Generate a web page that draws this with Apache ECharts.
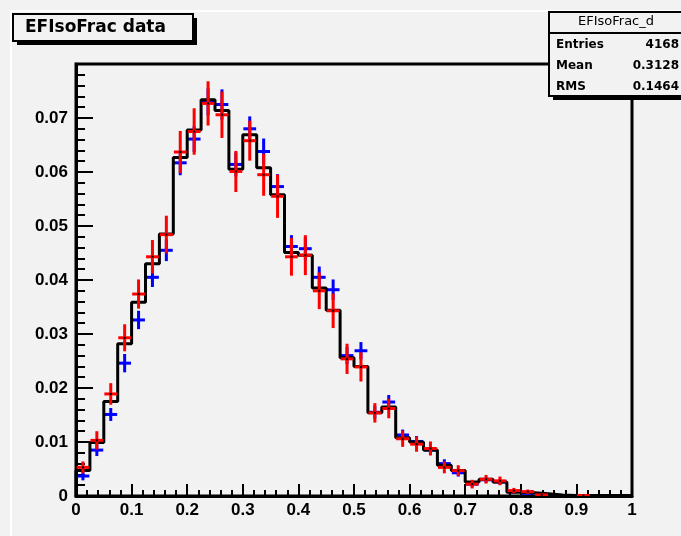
<!DOCTYPE html>
<html><head><meta charset="utf-8">
<script src="https://cdn.jsdelivr.net/npm/echarts@6/dist/echarts.min.js"></script>
<style>html,body{margin:0;padding:0;background:#f2f2f2;overflow:hidden}#c{width:681px;height:536px}</style>
</head><body><div id="c"></div>
<script>
// ---- data ----
const binLow = [0,0.025,0.05,0.075,0.1,0.125,0.15,0.175,0.2,0.225,0.25,0.275,0.3,0.325,0.35,0.375,0.4,0.425,0.45,0.475,
                0.5,0.525,0.55,0.575,0.6,0.625,0.65,0.675,0.7,0.725,0.75,0.775,0.8,0.825,0.85,0.875,0.9,0.925,0.95,0.975];
const binCenter = [0.0125,0.0375,0.0625,0.0875,0.1125,0.1375,0.1625,0.1875,0.2125,0.2375,0.2625,0.2875,0.3125,0.3375,0.3625,0.3875,0.4125,0.4375,0.4625,0.4875,
                   0.5125,0.5375,0.5625,0.5875,0.6125,0.6375,0.6625,0.6875,0.7125,0.7375,0.7625,0.7875,0.8125,0.8375,0.8625,0.8875,0.9125,0.9375,0.9625,0.9875];
const histValues = [0.0047,0.0099,0.0175,0.0282,0.0359,0.0430,0.0485,0.0627,0.0678,0.0734,0.0714,0.0605,0.0669,0.0608,0.0558,0.0451,0.0446,0.0385,0.0344,0.0256,
                    0.0240,0.0154,0.0165,0.0108,0.0100,0.0085,0.0057,0.0047,0.0026,0.0031,0.0026,0.0007,0.0006,0.0004,0.0002,0.0001,0.0001,0.0001,0.0001,0.0001];
const redValues = [0.0053,0.0103,0.0189,0.0293,0.0374,0.0443,0.0484,0.0637,0.0675,0.0727,0.0706,0.0601,0.0658,0.0595,0.0555,0.0443,0.0446,0.0380,0.0343,0.0254,
                   0.0239,0.0154,0.0162,0.0106,0.0096,0.0088,0.0053,0.0047,0.0022,0.0031,0.0028,0.0010,0.0008,0.0002,0,0,0.0001,0,0,0];
const redErrors = [0.0011,0.0017,0.0020,0.0025,0.0027,0.0031,0.0035,0.0039,0.0043,0.0041,0.0043,0.0038,0.0037,0.0039,0.0040,0.0035,0.0037,0.0034,0.0032,0.0028,
                   0.0027,0.0018,0.0018,0.0015,0.0014,0.0013,0.0011,0.0010,0.0008,0.0008,0.0008,0.0005,0.0004,0.0002,0,0,0.0001,0,0,0];
const blueValues = [0.0037,0.0085,0.0151,0.0246,0.0326,0.0405,0.0455,0.0617,0.0661,0.0730,0.0725,0.0614,0.0680,0.0638,0.0573,0.0462,0.0458,0.0405,0.0382,0.0260,
                    0.0269,0.0155,0.0174,0.0113,0.0101,0.0085,0.0060,0.0043,0.0022,0.0030,0.0026,0.0008,0.0005,0.0002,0,0,0,0,0,0];
const blueErrors = [0.0008,0.0011,0.0012,0.0017,0.0017,0.0018,0.0020,0.0023,0.0024,0.0025,0.0028,0.0022,0.0023,0.0024,0.0023,0.0021,0.0021,0.0020,0.0019,0.0016,
                    0.0016,0.0012,0.0013,0.0010,0.0010,0.0009,0.0008,0.0007,0.0005,0.0005,0.0005,0.0003,0.0002,0.0001,0,0,0,0,0,0];
const titleText = 'EFIsoFrac data';
const statsTitle = 'EFIsoFrac_d';
const statsLabels = ['Entries','Mean','RMS'];
const statsValues = ['4168','0.3128','0.1464'];

// ---- build ----
const FONT = '"Liberation Sans", Arial, sans-serif';
const FONT2 = '"DejaVu Sans", sans-serif';
const BG = '#f2f2f2';
const histData = [[0,0]];
for (let i = 0; i < binLow.length; i++) histData.push([binLow[i], histValues[i]]);
histData.push([1, histValues[histValues.length-1]]);
histData.push([1, 0]);

function pts(vals, errs) {
  const out = [];
  for (let i = 0; i < vals.length; i++) if (vals[i] > 0) out.push([binCenter[i], vals[i], errs[i]]);
  return out;
}
const XHALF = 0.0115;
function crossRender(color, dot) {
  return function (params, api) {
    const x = api.value(0), y = api.value(1), e = api.value(2);
    const c = api.coord([x, y]);
    const l = api.coord([x - XHALF, y]), r = api.coord([x + XHALF, y]);
    const t = api.coord([x, y + e]), b = api.coord([x, Math.max(0, y - e)]);
    const ch = [
      {type: 'line', shape: {x1: l[0], y1: c[1], x2: r[0], y2: c[1]}, style: {stroke: color, lineWidth: 3}},
      {type: 'line', shape: {x1: c[0], y1: t[1], x2: c[0], y2: b[1]}, style: {stroke: color, lineWidth: 3}}
    ];
    if (dot) ch.push({type: 'rect', shape: {x: c[0] - 1, y: c[1] - 1, width: 2, height: 2}, style: {fill: '#000'}});
    return {type: 'group', children: ch};
  };
}

const chart = echarts.init(document.getElementById('c'), null, {renderer: 'canvas'});
const statsTexts = [];
statsLabels.forEach((s, i) => {
  statsTexts.push({type: 'text', x: 556, y: 45 + i * 21, style: {text: s, font: 'bold 12px ' + FONT2, fill: '#000', verticalAlign: 'middle'}});
  statsTexts.push({type: 'text', x: 679, y: 45 + i * 21, style: {text: statsValues[i], font: 'bold 12px ' + FONT2, fill: '#000', align: 'right', verticalAlign: 'middle'}});
});

chart.setOption({
  backgroundColor: BG,
  animation: false,
  grid: {left: 76, top: 64, width: 556, height: 432, show: true, borderColor: '#000', borderWidth: 3, backgroundColor: 'transparent'},
  xAxis: {
    type: 'value', min: 0, max: 1, interval: 0.1,
    axisLine: {show: true, onZero: false, lineStyle: {color: '#000', width: 3}},
    axisTick: {show: true, inside: true, length: 12, lineStyle: {color: '#000', width: 2}},
    minorTick: {show: true, splitNumber: 5, length: 6, lineStyle: {color: '#000', width: 2}},
    splitLine: {show: false},
    axisLabel: {color: '#000', fontFamily: FONT, fontWeight: 'bold', fontSize: 17, margin: 6,
      formatter: v => (Math.abs(v) < 1e-9 ? '0' : (Math.abs(v - 1) < 1e-9 ? '1' : v.toFixed(1)))}
  },
  yAxis: {
    type: 'value', min: 0, max: 0.08, interval: 0.01,
    axisLine: {show: true, onZero: false, lineStyle: {color: '#000', width: 3}},
    axisTick: {show: true, inside: true, length: 17, lineStyle: {color: '#000', width: 2}},
    minorTick: {show: true, splitNumber: 5, length: 9, lineStyle: {color: '#000', width: 2}},
    splitLine: {show: false},
    axisLabel: {color: '#000', fontFamily: FONT, fontWeight: 'bold', fontSize: 17, margin: 8,
      formatter: v => (Math.abs(v) < 1e-9 ? '0' : (v > 0.0795 ? '' : v.toFixed(2)))}
  },
  series: [
    {type: 'custom', name: 'blue', renderItem: crossRender('#0000ff', false), data: pts(blueValues, blueErrors), z: 2, clip: true},
    {type: 'line', name: 'hist', data: histData, step: 'end', symbol: 'none', lineStyle: {color: '#000', width: 3}, z: 3},
    {type: 'custom', name: 'red', renderItem: crossRender('#ff0000', true), data: pts(redValues, redErrors), z: 4, clip: true}
  ],
  graphic: [
    {type: 'line', shape: {x1: 11, y1: 10, x2: 11, y2: 536}, style: {stroke: '#ffffff', lineWidth: 2}, z: 50},
    {type: 'line', shape: {x1: 10, y1: 11, x2: 681, y2: 11}, style: {stroke: '#ffffff', lineWidth: 2}, z: 50},
    {type: 'rect', shape: {x: 17, y: 18, width: 180, height: 27}, style: {fill: '#000'}, z: 100},
    {type: 'rect', shape: {x: 13, y: 14, width: 180, height: 27}, style: {fill: BG, stroke: '#000', lineWidth: 2}, z: 101},
    {type: 'text', x: 25, y: 28, style: {text: titleText, font: 'bold 17px ' + FONT2, fill: '#000', verticalAlign: 'middle'}, z: 102},
    {type: 'rect', shape: {x: 553, y: 16, width: 140, height: 84}, style: {fill: '#000'}, z: 100},
    {type: 'rect', shape: {x: 549, y: 12, width: 140, height: 84}, style: {fill: BG, stroke: '#000', lineWidth: 2}, z: 101},
    {type: 'line', shape: {x1: 549, y1: 33, x2: 681, y2: 33}, style: {stroke: '#000', lineWidth: 2}, z: 102},
    {type: 'text', x: 616, y: 22, style: {text: statsTitle, font: '13px ' + FONT2, fill: '#000', align: 'center', verticalAlign: 'middle'}, z: 102}
  ].concat(statsTexts.map(t => Object.assign(t, {z: 102})))
});
</script></body></html>
